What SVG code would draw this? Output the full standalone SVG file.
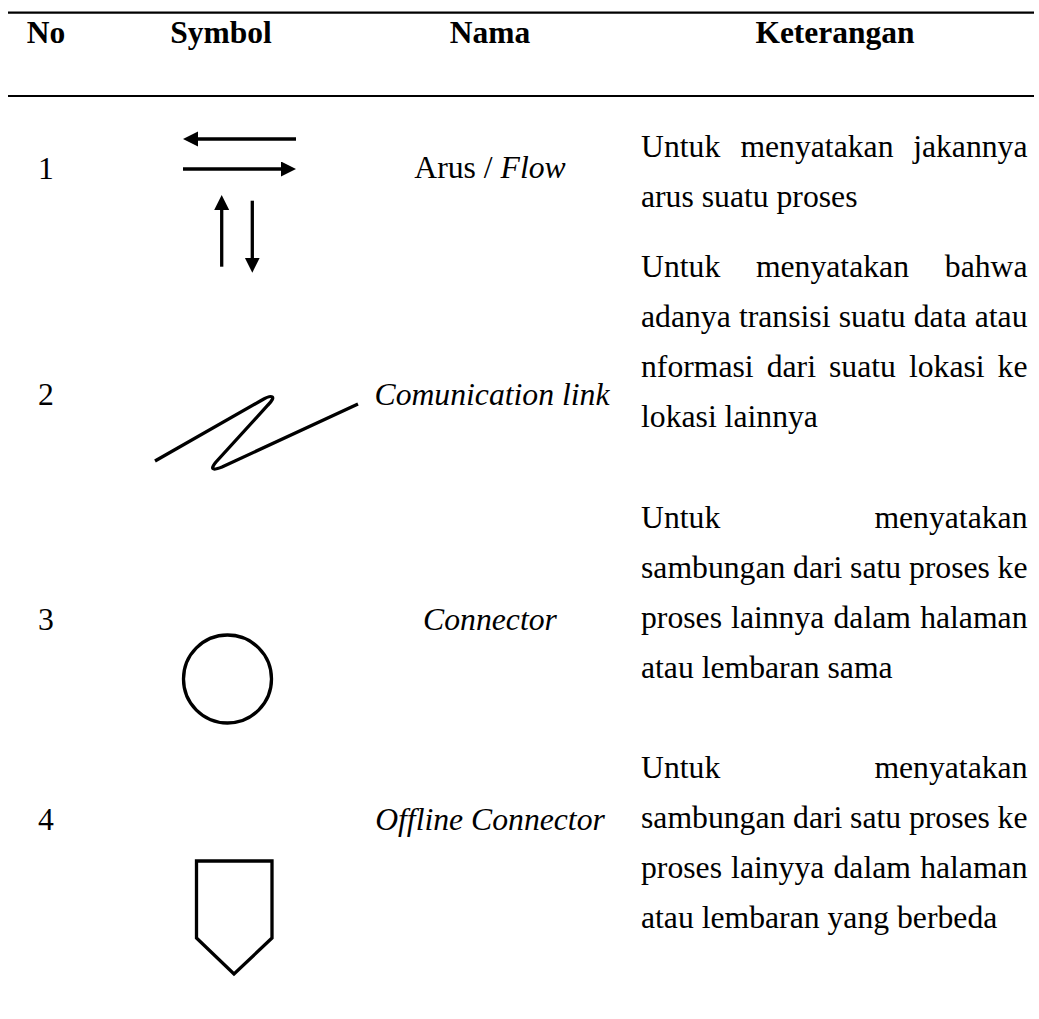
<svg xmlns="http://www.w3.org/2000/svg" width="1039" height="1019" viewBox="0 0 1039 1019">
  <style>
    .hd { font-family: "Liberation Serif", "Times New Roman", serif; font-weight: bold; font-size: 31.5px; text-anchor: middle; fill: #000; }
    .tx { font-family: "Liberation Serif", "Times New Roman", serif; font-size: 31.7px; fill: #000; }
    .c { text-anchor: middle; }
    .e { text-anchor: end; }
    .it { font-style: italic; }
    .rule { stroke: #000; stroke-width: 2.2; }
    .sym { fill: none; stroke: #000; stroke-width: 3.3; stroke-linejoin: miter; }
    .flow { stroke: #000; stroke-width: 3.3; fill: none; marker-end: url(#head); }
  </style>
  <defs>
    <marker id="head" markerUnits="userSpaceOnUse" markerWidth="16" markerHeight="16" refX="3" refY="7.5" orient="auto">
      <path d="M0,0 L15,7.5 L0,15 Z" fill="#000"/>
    </marker>
  </defs>
  <rect width="1039" height="1019" fill="#fff"/>

  <!-- table header -->
  <g id="header">
    <line class="rule" x1="8" y1="12.7" x2="1034" y2="12.7"/>
    <text class="hd" x="46" y="43">No</text>
    <text class="hd" x="221" y="43">Symbol</text>
    <text class="hd" x="490" y="43">Nama</text>
    <text class="hd" x="835" y="43">Keterangan</text>
    <line class="rule" x1="8" y1="96" x2="1034" y2="96"/>
  </g>

  <!-- row 1: flow arrows -->
  <g id="row-flow">
    <text class="tx c" x="46" y="179">1</text>
    <g id="sym-flow">
      <line class="flow" x1="296" y1="139" x2="195" y2="139"/>
      <line class="flow" x1="183" y1="169" x2="284" y2="169"/>
      <line class="flow" x1="221.7" y1="266.7" x2="221.7" y2="207"/>
      <line class="flow" x1="252.3" y1="200.7" x2="252.3" y2="260.7"/>
    </g>
    <text class="tx c" x="490" y="178">Arus / <tspan class="it">Flow</tspan></text>
    <text class="tx" x="641" y="157">Untuk</text>
    <text class="tx" x="740.4" y="157">menyatakan</text>
    <text class="tx e" x="1027.5" y="157">jakannya</text>
    <text class="tx" x="641" y="207">arus suatu proses</text>
  </g>

  <!-- row 2: communication link -->
  <g id="row-link">
    <text class="tx c" x="46" y="405">2</text>
    <path id="sym-link" class="sym" stroke-linejoin="round" d="M155,461 L262,400 C272,394 277,396 268,405 L216,462 C210,469 212,471 222,467 L358,404"/>
    <text class="tx c it" x="492" y="405">Comunication link</text>
    <text class="tx" x="641" y="277">Untuk</text>
    <text class="tx" x="755.9" y="277">menyatakan</text>
    <text class="tx e" x="1027.5" y="277">bahwa</text>
    <text class="tx" x="641" y="327">adanya</text>
    <text class="tx" x="738.95" y="327">transisi</text>
    <text class="tx" x="838.7" y="327">suatu</text>
    <text class="tx" x="913.75" y="327">data</text>
    <text class="tx e" x="1027.5" y="327">atau</text>
    <text class="tx" x="641" y="377">nformasi</text>
    <text class="tx" x="766.7" y="377">dari</text>
    <text class="tx" x="829" y="377">suatu</text>
    <text class="tx" x="908.9" y="377">lokasi</text>
    <text class="tx e" x="1027.5" y="377">ke</text>
    <text class="tx" x="641" y="427">lokasi lainnya</text>
  </g>

  <!-- row 3: on-page connector -->
  <g id="row-connector">
    <text class="tx c" x="46" y="630">3</text>
    <circle id="sym-connector" class="sym" cx="227.5" cy="679" r="44"/>
    <text class="tx c it" x="490" y="630">Connector</text>
    <text class="tx" x="641" y="528">Untuk</text>
    <text class="tx e" x="1027.5" y="528">menyatakan</text>
    <text class="tx" x="641" y="578">sambungan</text>
    <text class="tx" x="793.1" y="578">dari</text>
    <text class="tx" x="850.1" y="578">satu</text>
    <text class="tx" x="908.9" y="578">proses</text>
    <text class="tx e" x="1027.5" y="578">ke</text>
    <text class="tx" x="641" y="628">proses</text>
    <text class="tx" x="731.1" y="628">lainnya</text>
    <text class="tx" x="833.5" y="628">dalam</text>
    <text class="tx e" x="1027.5" y="628">halaman</text>
    <text class="tx" x="641" y="678">atau lembaran sama</text>
  </g>

  <!-- row 4: off-page connector -->
  <g id="row-offline">
    <text class="tx c" x="46" y="830">4</text>
    <path id="sym-offline" class="sym" d="M196.5,861 L272,861 L272,938 L234,974 L196.5,938 Z"/>
    <text class="tx c it" x="490" y="830">Offline Connector</text>
    <text class="tx" x="641" y="778">Untuk</text>
    <text class="tx e" x="1027.5" y="778">menyatakan</text>
    <text class="tx" x="641" y="828">sambungan</text>
    <text class="tx" x="793.1" y="828">dari</text>
    <text class="tx" x="850.1" y="828">satu</text>
    <text class="tx" x="908.9" y="828">proses</text>
    <text class="tx e" x="1027.5" y="828">ke</text>
    <text class="tx" x="641" y="878">proses</text>
    <text class="tx" x="731.1" y="878">lainyya</text>
    <text class="tx" x="833.5" y="878">dalam</text>
    <text class="tx e" x="1027.5" y="878">halaman</text>
    <text class="tx" x="641" y="928">atau lembaran yang berbeda</text>
  </g>
</svg>
